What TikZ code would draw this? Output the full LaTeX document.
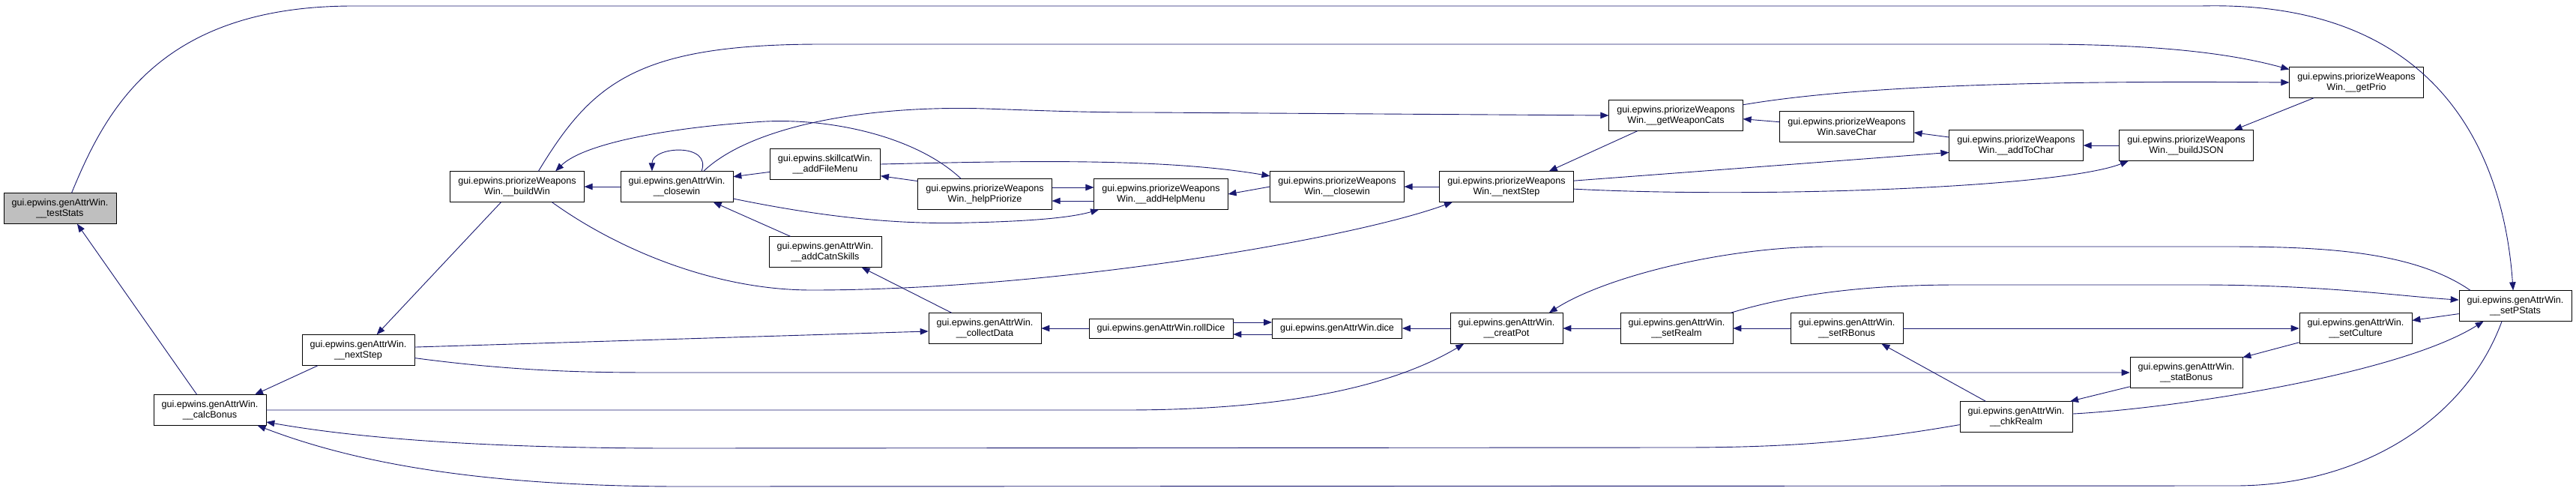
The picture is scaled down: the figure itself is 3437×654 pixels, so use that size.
\documentclass[tikz,border=0pt]{standalone}
\usepackage{fontspec}
\setmainfont{Liberation Sans}
\usepackage{tikz}
\usetikzlibrary{arrows.meta}
\definecolor{edgec}{HTML}{191970}
\definecolor{rootc}{HTML}{BFBFBF}
\tikzset{
  ar/.style={-{Triangle[length=11pt,width=8.5pt]},line width=0.9pt,edgec},
  box/.style={draw=black,fill=white,line width=0.8pt,align=center,inner xsep=10.5pt,inner ysep=2pt,minimum height=40.5pt,font=\fontsize{12.6}{14.3}\selectfont},
  box1/.style={box,minimum height=26pt}
}
\begin{document}
\begin{tikzpicture}[x=1pt,y=-1pt]
\fill[white] (0,0) rectangle (3437,654);
\useasboundingbox (0,0) rectangle (3437,654);
\node[box,fill=rootc] (tstats) at (80,278) {gui.epwins.genAttrWin.\\\_\_testStats};
\node[box] (calcb) at (280,547) {gui.epwins.genAttrWin.\\\_\_calcBonus};
\node[box] (nstep) at (478,467) {gui.epwins.genAttrWin.\\\_\_nextStep};
\node[box] (bwin) at (690,249) {gui.epwins.priorizeWeapons\\Win.\_\_buildWin};
\node[box] (cwin) at (903,249) {gui.epwins.genAttrWin.\\\_\_closewin};
\node[box] (fmenu) at (1101,219) {gui.epwins.skillcatWin.\\\_\_addFileMenu};
\node[box] (catsk) at (1101,336) {gui.epwins.genAttrWin.\\\_\_addCatnSkills};
\node[box] (hprio) at (1314,259) {gui.epwins.priorizeWeapons\\Win.\_helpPriorize};
\node[box] (cdata) at (1314,438) {gui.epwins.genAttrWin.\\\_\_collectData};
\node[box] (hmenu) at (1549,259) {gui.epwins.priorizeWeapons\\Win.\_\_addHelpMenu};
\node[box1] (rdice) at (1549,438) {gui.epwins.genAttrWin.rollDice};
\node[box] (pcwin) at (1784,249) {gui.epwins.priorizeWeapons\\Win.\_\_closewin};
\node[box1] (dice) at (1784,438) {gui.epwins.genAttrWin.dice};
\node[box] (pnstep) at (2010,249) {gui.epwins.priorizeWeapons\\Win.\_\_nextStep};
\node[box] (cpot) at (2010,438) {gui.epwins.genAttrWin.\\\_\_creatPot};
\node[box] (wcats) at (2236,154) {gui.epwins.priorizeWeapons\\Win.\_\_getWeaponCats};
\node[box] (srealm) at (2237,438) {gui.epwins.genAttrWin.\\\_\_setRealm};
\node[box] (schar) at (2464,169) {gui.epwins.priorizeWeapons\\Win.saveChar};
\node[box] (rbonus) at (2464,438) {gui.epwins.genAttrWin.\\\_\_setRBonus};
\node[box] (tochar) at (2690,194) {gui.epwins.priorizeWeapons\\Win.\_\_addToChar};
\node[box] (crealm) at (2690,556) {gui.epwins.genAttrWin.\\\_\_chkRealm};
\node[box] (json) at (2917,194) {gui.epwins.priorizeWeapons\\Win.\_\_buildJSON};
\node[box] (sbonus) at (2917,497) {gui.epwins.genAttrWin.\\\_\_statBonus};
\node[box] (gprio) at (3144,110) {gui.epwins.priorizeWeapons\\Win.\_\_getPrio};
\node[box] (sculture) at (3143,438) {gui.epwins.genAttrWin.\\\_\_setCulture};
\node[box] (pstats) at (3356,408) {gui.epwins.genAttrWin.\\\_\_setPStats};
\foreach \s/\t in {calcb.130/tstats.318, nstep.201/calcb.19, bwin.224/nstep.40, cwin.west/bwin.east,
  fmenu.188/cwin.10, hprio.169/fmenu.348, catsk.156/cwin.337, cdata.155/catsk.337,
  pcwin.west/hmenu.east, pnstep.west/pcwin.east, wcats.202/pnstep.20, schar.176/wcats.357,
  tochar.173/schar.355, pnstep.5/tochar.186, json.west/tochar.east, gprio.200/json.18,
  nstep.3/cdata.183, rdice.west/cdata.east, cpot.west/dice.east, srealm.west/cpot.east,
  rbonus.west/srealm.east, rbonus.east/sculture.west, pstats.188/sculture.8,
  sculture.194/sbonus.15, sbonus.194/crealm.16, crealm.153/rbonus.336}
  \draw[ar] (\s) -- (\t);
\draw[ar] ([yshift=9pt]hprio.east) -- ([yshift=9pt]hmenu.west);
\draw[ar] ([yshift=-9pt]hmenu.west) -- ([yshift=-9pt]hprio.east);
\draw[ar] ([yshift=8pt]rdice.east) -- ([yshift=8pt]dice.west);
\draw[ar] ([yshift=-8pt]dice.west) -- ([yshift=-8pt]rdice.east);
\draw[ar] (cwin.32) .. controls (950,190) and (870,195) .. (cwin.148);
\draw[ar] (tstats.53) .. controls (140,150) and (210,8) .. (471,8) -- (2937,8) .. controls (3250,0) and (3340,200) .. (pstats.98);
\draw[ar] (bwin.36) .. controls (790,110) and (850,59) .. (1096,59) -- (2718,59) .. controls (2900,59) and (2990,75) .. (gprio.169);
\draw[ar] (cwin.30) .. controls (1000,170) and (1150,140) .. (1315,145) .. controls (1400,148) and (1450,150) .. (1534,150) -- (wcats.west);
\draw[ar] (wcats.9) .. controls (2500,110) and (2800,108) .. (gprio.west);
\draw[ar] (hprio.147) .. controls (1220,180) and (1100,155) .. (1006,163) .. controls (900,170) and (780,190) .. (bwin.22);
\draw[ar] (cwin.348) .. controls (1100,290) and (1200,300) .. (1294,297) .. controls (1380,295) and (1430,290) .. (hmenu.194);
\draw[ar] (bwin.336) .. controls (820,330) and (950,387) .. (1083,387) .. controls (1400,387) and (1800,320) .. (pnstep.196);
\draw[ar] (fmenu.east) .. controls (1350,215) and (1550,210) .. (pcwin.171);
\draw[ar] (pnstep.358) .. controls (2350,265) and (2750,250) .. (json.195);
\draw[ar] (nstep.352) .. controls (700,497) and (800,497) .. (886,497) -- (sbonus.west);
\draw[ar] (pstats.161) .. controls (3220,335) and (3100,329) .. (2970,329) -- (2439,329) .. controls (2300,329) and (2140,370) .. (cpot.20);
\draw[ar] (srealm.16) .. controls (2400,390) and (2500,380) .. (2612,380) -- (2933,380) .. controls (3100,380) and (3200,395) .. (pstats.174);
\draw[ar] (crealm.3) .. controls (2900,545) and (3200,500) .. (pstats.206);
\draw[ar] (crealm.188) .. controls (2480,590) and (2380,597) .. (2241,597) -- (900,598) .. controls (650,598) and (480,585) .. (calcb.348);
\draw[ar] (calcb.east) -- (1500,547) .. controls (1700,547) and (1850,520) .. (cpot.200);
\draw[ar] (pstats.229) .. controls (3290,560) and (3150,648) .. (2982,648) -- (900,649) .. controls (650,648) and (480,620) .. (calcb.342);
\end{tikzpicture}
\end{document}
